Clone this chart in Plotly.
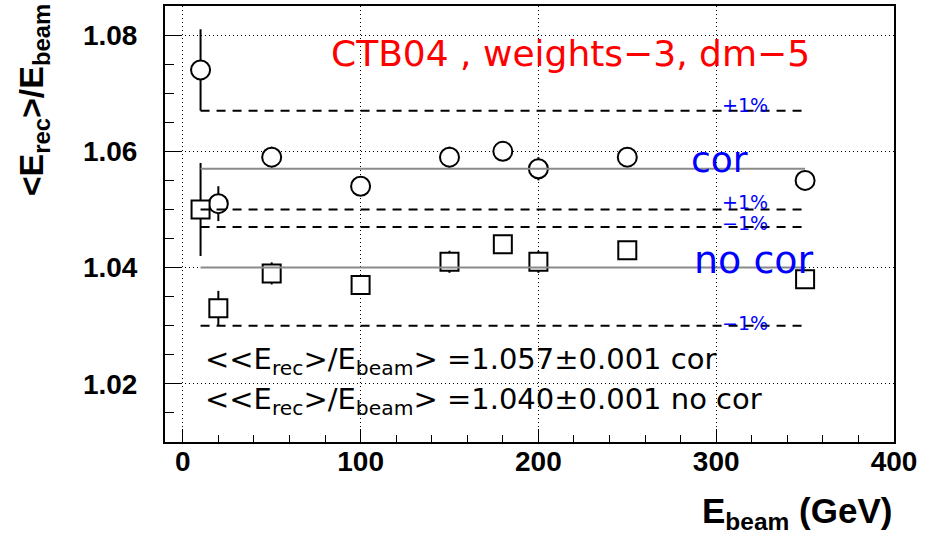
import plotly.graph_objects as go

# ---------------- data ----------------
energies = [10, 20, 50, 100, 150, 180, 200, 250, 350]
resp_cor = [1.074, 1.051, 1.059, 1.054, 1.059, 1.060, 1.057, 1.059, 1.055]
err_cor = [0.007, 0.003, 0.0018, 0.001, 0.0018, 0.001, 0.002, 0.001, 0.001]
resp_nocor = [1.050, 1.033, 1.039, 1.037, 1.041, 1.044, 1.041, 1.043, 1.038]
err_nocor = [0.008, 0.003, 0.0019, 0.001, 0.0019, 0.001, 0.0019, 0.001, 0.001]
mean_cor = 1.057
mean_nocor = 1.040
mean_err = 0.001
band = 0.01  # +-1 %
x_ticks = [0, 100, 200, 300, 400]
y_ticks = [1.02, 1.04, 1.06, 1.08]
title_text = "CTB04 , weights\u22123, dm\u22125"

BOLD = "Liberation Sans"
ANN = "DejaVu Sans"
BLUE = "#0000ff"

fig = go.Figure()

# data points with error bars (markers white-filled so bars stop at the edge)
fig.add_trace(go.Scatter(
    x=energies, y=resp_cor, mode="markers", name="cor",
    error_y=dict(type="data", array=err_cor, visible=True, color="black",
                 thickness=2, width=0),
    marker=dict(symbol="circle", size=19, color="white",
                line=dict(color="black", width=2)),
    showlegend=False))
fig.add_trace(go.Scatter(
    x=energies, y=resp_nocor, mode="markers", name="no cor",
    error_y=dict(type="data", array=err_nocor, visible=True, color="black",
                 thickness=2, width=0),
    marker=dict(symbol="square", size=18, color="white",
                line=dict(color="black", width=2)),
    showlegend=False))

x_line = [energies[0], energies[-1]]
for m in (mean_cor, mean_nocor):
    fig.add_trace(go.Scatter(x=x_line, y=[m, m], mode="lines",
                             line=dict(color="#8a8a8a", width=2),
                             showlegend=False, hoverinfo="skip"))
    for s in (1, -1):
        fig.add_trace(go.Scatter(x=x_line, y=[m + s * band] * 2, mode="lines",
                                 line=dict(color="black", width=2, dash="9px,7px"),
                                 showlegend=False, hoverinfo="skip"))

# ---------------- annotations ----------------
ann = []
ann.append(dict(x=218, y=1.0768, xref="x", yref="y", text=title_text,
                showarrow=False, xanchor="center", yanchor="middle",
                font=dict(family=ANN, size=36, color="#ff0000")))

pct_x = 316
for m, s, shift in ((mean_cor, 1, 6), (mean_cor, -1, 4),
                    (mean_nocor, 1, 7), (mean_nocor, -1, 3)):
    lbl = "+1%" if s > 0 else "\u22121%"
    ann.append(dict(x=pct_x, y=m + s * band, xref="x", yref="y", text=lbl,
                    showarrow=False, xanchor="center", yanchor="middle",
                    yshift=shift, font=dict(family=ANN, size=19, color=BLUE)))

ann.append(dict(x=302, y=mean_cor, xref="x", yref="y", text="cor",
                showarrow=False, xanchor="center", yanchor="middle", yshift=9,
                font=dict(family=ANN, size=36, color=BLUE)))
ann.append(dict(x=321, y=mean_nocor, xref="x", yref="y", text="no cor",
                showarrow=False, xanchor="center", yanchor="middle", yshift=8,
                font=dict(family=ANN, size=38, color=BLUE)))

res_lbl = "&lt;&lt;E<sub>rec</sub>&gt;/E<sub>beam</sub>&gt; ="
ann.append(dict(x=11.4, y=1.0239, xref="x", yref="y",
                text=f"{res_lbl}{mean_cor:.3f}\u00b1{mean_err:.3f} cor",
                showarrow=False, xanchor="left", yanchor="middle",
                font=dict(family=ANN, size=29, color="black")))
ann.append(dict(x=11.4, y=1.0170, xref="x", yref="y",
                text=f"{res_lbl}{mean_nocor:.3f}\u00b1{mean_err:.3f} no cor",
                showarrow=False, xanchor="left", yanchor="middle",
                font=dict(family=ANN, size=29, color="black")))

# axis titles
ann.append(dict(x=-0.213, y=1.009, xref="paper", yref="paper",
                text="&lt;E<sub>rec</sub>&gt;/E<sub>beam</sub>",
                textangle=-90, showarrow=False, xanchor="left", yanchor="top",
                font=dict(family=BOLD, size=34, color="black", weight="bold")))
ann.append(dict(x=1.0, y=-0.163, xref="paper", yref="paper",
                text="E<sub>beam</sub> (GeV)",
                showarrow=False, xanchor="right", yanchor="middle",
                font=dict(family=BOLD, size=35, color="black", weight="bold")))

fig.update_layout(
    width=931, height=542,
    margin=dict(l=165, r=37, t=4, b=100),
    paper_bgcolor="white", plot_bgcolor="white",
    annotations=ann,
    showlegend=False,
)

fig.update_xaxes(
    range=[-10, 400], tickvals=x_ticks, ticktext=[str(v) for v in x_ticks],
    showline=True, linecolor="black", linewidth=2, mirror=True,
    ticks="inside", ticklen=13, tickwidth=1, tickcolor="black",
    minor=dict(ticks="inside", ticklen=7, dtick=20, tickcolor="black", showgrid=False),
    showgrid=True, gridcolor="black", gridwidth=1, griddash="1px,3px",
    zeroline=False, ticklabelstandoff=-7,
    tickfont=dict(family=BOLD, size=28, color="black", weight="bold"),
)
fig.update_yaxes(
    range=[1.01, 1.085], tickvals=y_ticks, ticktext=[f"{v:.2f}" for v in y_ticks],
    showline=True, linecolor="black", linewidth=2, mirror=True,
    ticks="inside", ticklen=17, tickwidth=1, tickcolor="black",
    minor=dict(ticks="inside", ticklen=9, dtick=0.005, tickcolor="black", showgrid=False),
    showgrid=True, gridcolor="black", gridwidth=1, griddash="1px,3px",
    zeroline=False, ticklabelstandoff=20,
    tickfont=dict(family=BOLD, size=28, color="black", weight="bold"),
)

fig.write_html("out.html")
